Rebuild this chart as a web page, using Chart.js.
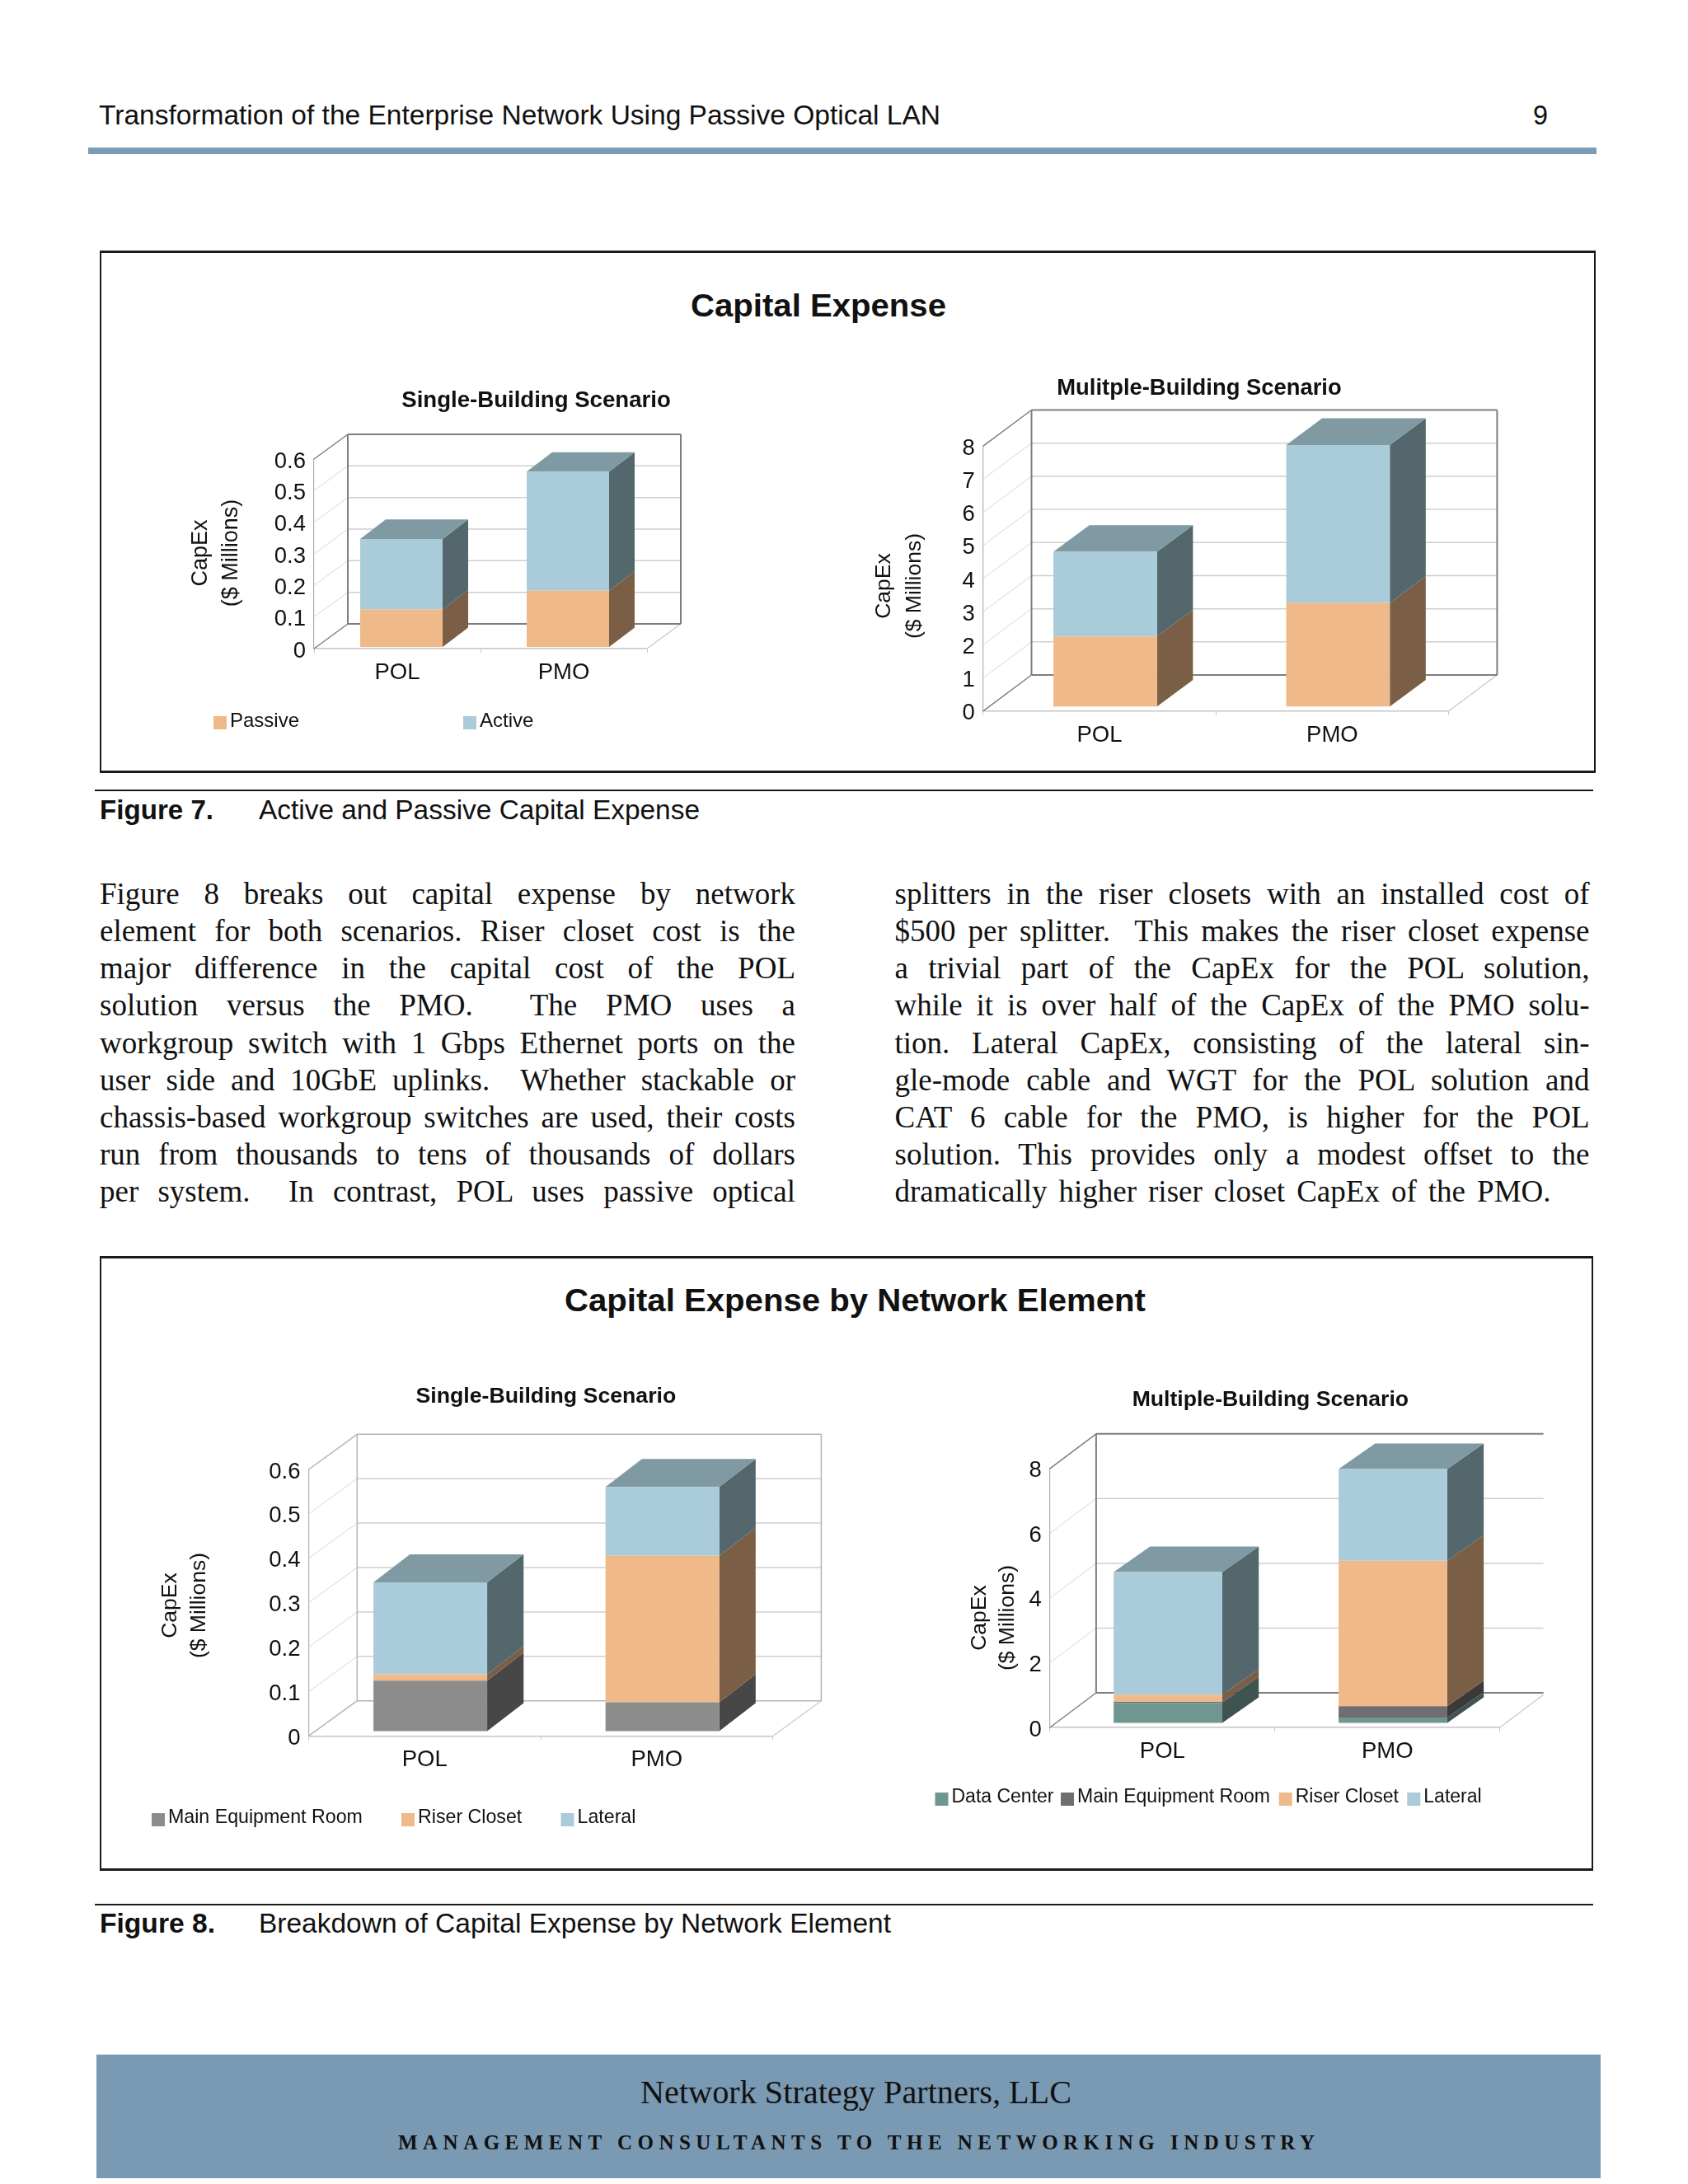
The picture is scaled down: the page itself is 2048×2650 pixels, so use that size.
<!DOCTYPE html>
<html>
<head>
<meta charset="utf-8">
<title>Capital Expense</title>
<script src="https://cdn.jsdelivr.net/npm/chart.js@4"></script>
<style>
html, body { margin: 0; padding: 0; background: #fff; }
#page { position: relative; width: 2048px; height: 2650px; overflow: hidden; background: #fff; }
.t { position: absolute; white-space: pre; line-height: 0; color: #111; transform-origin: 0 0; }
.r { position: absolute; }
canvas { position: absolute; }
</style>
</head>
<body>
<div id="page"></div>
<script>
var categories = ["POL", "PMO"]

// figure 7
var ticksFig7Single = [0, 0.1, 0.2, 0.3, 0.4, 0.5, 0.6]
var fig7SinglePassive = [0.119, 0.178]
var fig7SingleActive = [0.223, 0.377]

var ticksFig7Multi = [0, 1, 2, 3, 4, 5, 6, 7, 8]
var fig7MultiPassive = [2.115, 3.13]
var fig7MultiActive = [2.555, 4.765]

// figure 8
var ticksFig8Single = [0, 0.1, 0.2, 0.3, 0.4, 0.5, 0.6]
var fig8SingleMain = [0.114, 0.065]
var fig8SingleRiser = [0.014, 0.33]
var fig8SingleLateral = [0.207, 0.155]

var ticksFig8Multi = [0, 2, 4, 6, 8]
var fig8MultiData = [0.623, 0.169]
var fig8MultiMain = [0.03, 0.348]
var fig8MultiRiser = [0.222, 4.496]
var fig8MultiLateral = [3.789, 2.83]

var leftLines = [
    "Figure 8 breaks out capital expense by network",
    "element for both scenarios. Riser closet cost is the",
    "major difference in the capital cost of the POL",
    "solution versus the PMO.  The PMO uses a",
    "workgroup switch with 1 Gbps Ethernet ports on the",
    "user side and 10GbE uplinks.  Whether stackable or",
    "chassis-based workgroup switches are used, their costs",
    "run from thousands to tens of thousands of dollars",
    "per system.  In contrast, POL uses passive optical"
]
var rightLines = [
    "splitters in the riser closets with an installed cost of",
    "$500 per splitter.  This makes the riser closet expense",
    "a trivial part of the CapEx for the POL solution,",
    "while it is over half of the CapEx of the PMO solu-",
    "tion. Lateral CapEx, consisting of the lateral sin-",
    "gle-mode cable and WGT for the POL solution and",
    "CAT 6 cable for the PMO, is higher for the POL",
    "solution. This provides only a modest offset to the",
    "dramatically higher riser closet CapEx of the PMO."
]
var bodyBaselines = [1097, 1142.3, 1187.5, 1232.7, 1278, 1323, 1368.2, 1413.2, 1458.4]

var SANS = '"Liberation Sans", Arial, sans-serif'
var SERIF = '"Liberation Serif", "Times New Roman", serif'
var page = document.getElementById("page")

// colours of one stacked layer: front, side
var PEACH = ["#f0b98a", "#7a5f46"]
var BLUE = ["#aacbd9", "#54676d"]
var GREY = ["#8c8c8c", "#474747"]
var DARK = ["#6f6d70", "#3a3a3a"]
var TEAL = ["#6f9690", "#3f5350"]
var TOP_FACE = "#7f9aa3"

function rect(x, y, w, h, color){
    var d = document.createElement("div")
    d.className = "r"
    d.style.cssText = "left:" + x + "px;top:" + y + "px;width:" + w + "px;height:" + h + "px;background:" + color
    page.appendChild(d)
}

function box(x, y, w, h){
    var d = document.createElement("div")
    d.className = "r"
    d.style.cssText = "left:" + x + "px;top:" + y + "px;width:" + w + "px;height:" + h + "px;border:solid #1a1a1a;border-width:3px 2px 3px 2px;box-sizing:border-box"
    page.appendChild(d)
}

// text placed on its baseline, fitted to a measured width
// fit: scale = squeeze glyphs, words = word spacing, letters = letter spacing
function text(str, x, baseline, size, family, width, fit, bold){
    var d = document.createElement("div")
    var k = family == SANS ? 0.3465 : 0.3375
    d.className = "t"
    d.textContent = str
    d.style.left = x + "px"
    d.style.top = (baseline - k * size) + "px"
    d.style.fontFamily = family
    d.style.fontSize = size + "px"
    if (bold) d.style.fontWeight = "bold"
    page.appendChild(d)
    if (!width) return
    var natural = d.getBoundingClientRect().width
    if (fit == "words") {
        d.style.wordSpacing = ((width - natural) / (str.split(" ").length - 1)) + "px"
    } else if (fit == "letters") {
        d.style.letterSpacing = ((width - natural) / (str.length - 1)) + "px"
    } else {
        d.style.transform = "scaleX(" + (width / natural) + ")"
    }
}

function drawPageText(){
    rect(107, 179, 1830, 8, "#7a9db6")
    text("Transformation of the Enterprise Network Using Passive Optical LAN", 120, 151, 33, SANS, 1021)
    text("9", 1860, 151, 33, SANS, 18)

    box(121, 304, 1815, 634)
    text("Capital Expense", 838, 385, 39, SANS, 310, "scale", true)
    rect(115, 958, 1818, 2, "#1a1a1a")
    text("Figure 7.", 121, 994, 33, SANS, 138, "scale", true)
    text("Active and Passive Capital Expense", 313.5, 994, 33, SANS, 535)

    for (var i = 0; i < leftLines.length; i++) {
        text(leftLines[i], 121, bodyBaselines[i], 37, SERIF, 844, "words")
        text(rightLines[i], 1085.5, bodyBaselines[i], 37, SERIF, i == 8 ? 796 : 843, "words")
    }

    box(121, 1524, 1812, 746)
    text("Capital Expense by Network Element", 685, 1592, 39, SANS, 705, "scale", true)
    rect(115, 2310, 1818, 2, "#1a1a1a")
    text("Figure 8.", 121, 2345, 33, SANS, 140, "scale", true)
    text("Breakdown of Capital Expense by Network Element", 313.5, 2345, 33, SANS, 767)

    rect(117, 2493, 1825, 150, "#7a9ab3")
    text("Network Strategy Partners, LLC", 777, 2552, 39, SERIF, 523)
    text("MANAGEMENT CONSULTANTS TO THE NETWORKING INDUSTRY", 483, 2608, 25, SERIF, 1112, "letters", true)
}

// walls, floor and the depth faces of the bars
var depthPlugin = {
    id: "depth",
    beforeDatasetsDraw: function(chart){
        var c = chart.options.plugins.depth
        var ctx = chart.ctx
        var area = chart.chartArea
        var ys = chart.scales.y
        var y0 = ys.getPixelForValue(0)
        var yTop = ys.getPixelForValue(ys.max)
        var backL = area.left + c.dx
        var backR = area.right + c.dx

        function line(x1, y1, x2, y2, color, w){
            ctx.strokeStyle = color
            ctx.lineWidth = w
            ctx.beginPath()
            ctx.moveTo(x1, y1)
            ctx.lineTo(x2, y2)
            ctx.stroke()
        }

        ctx.save()
        if (c.cutX) {
            ctx.beginPath()
            ctx.rect(0, 0, c.cutX - chart.canvas.offsetLeft, chart.height)
            ctx.clip()
        }
        ys.ticks.forEach(function(t){
            if (t.value == 0 || t.value == ys.max) return
            var y = ys.getPixelForValue(t.value)
            line(area.left, y, backL, y - c.dy, "#d6d6d6", 1)
            line(backL, y - c.dy, backR, y - c.dy, "#cfcfcf", 1.5)
        })
        line(area.right, y0, backR, y0 - c.dy, "#c8c8c8", 1.2)
        line(area.left, y0, backL, y0 - c.dy, c.frame, 1.5)
        line(area.left, yTop, backL, yTop - c.dy, c.frame, 1.5)
        line(backL, yTop - c.dy, backL, y0 - c.dy, c.frame, c.frameW)
        line(backL, yTop - c.dy, backR, yTop - c.dy, c.frame, c.frameW)
        line(backL, y0 - c.dy, backR, y0 - c.dy, c.frame, c.frameW)
        if (!c.cutX) line(backR, yTop - c.dy, backR, y0 - c.dy, c.frame, c.frameW)
        ctx.restore()

        // stays open until afterDatasetsDraw so the bars stand off the axis plane
        ctx.save()
        ctx.translate(c.sx, -c.sy)
        var last = chart.data.datasets.length - 1
        chart.data.datasets.forEach(function(ds, i){
            chart.getDatasetMeta(i).data.forEach(function(bar){
                var p = bar.getProps(["x", "y", "base", "width"], true)
                var r = p.x + p.width / 2
                var l = p.x - p.width / 2
                ctx.fillStyle = ds.sideColor
                ctx.beginPath()
                ctx.moveTo(r, p.y)
                ctx.lineTo(r + c.barDx, p.y - c.barDy)
                ctx.lineTo(r + c.barDx, p.base - c.barDy)
                ctx.lineTo(r, p.base)
                ctx.closePath()
                ctx.fill()
                if (i == last) {
                    ctx.fillStyle = TOP_FACE
                    ctx.beginPath()
                    ctx.moveTo(l, p.y)
                    ctx.lineTo(l + c.barDx, p.y - c.barDy)
                    ctx.lineTo(r + c.barDx, p.y - c.barDy)
                    ctx.lineTo(r, p.y)
                    ctx.closePath()
                    ctx.fill()
                }
            })
        })
    },
    afterDatasetsDraw: function(chart){
        chart.ctx.restore()
    }
}

// chart title, two line axis title and legend sit at measured places
var labelsPlugin = {
    id: "labels",
    afterDraw: function(chart){
        var c = chart.options.plugins.labels
        var ctx = chart.ctx
        var ox = chart.canvas.offsetLeft
        var oy = chart.canvas.offsetTop
        ctx.save()
        ctx.fillStyle = "#111"
        ctx.textBaseline = "middle"

        ctx.textAlign = "center"
        ctx.font = "bold " + c.titleSize + "px " + SANS
        ctx.fillText(c.title, c.titleX - ox, c.titleY - oy)

        ctx.font = c.axisSize + "px " + SANS
        c.axisText.forEach(function(s, i){
            ctx.save()
            ctx.translate(c.axisX[i] - ox, c.axisY - oy)
            ctx.rotate(-Math.PI / 2)
            ctx.fillText(s, 0, 0)
            ctx.restore()
        })

        ctx.textAlign = "left"
        ctx.font = c.legendSize + "px " + SANS
        chart.data.datasets.forEach(function(ds, i){
            if (!c.legendX) return
            ctx.fillStyle = ds.backgroundColor
            ctx.fillRect(c.legendX[i] - ox, c.legendY - oy, 16, 16)
            ctx.fillStyle = "#111"
            ctx.fillText(ds.label, c.legendX[i] + 20 - ox, c.legendTextY - oy)
        })
        ctx.restore()
    }
}

function layer(label, values, colors, barPct){
    return {
        label: label,
        data: values,
        backgroundColor: colors[0],
        sideColor: colors[1],
        borderWidth: 0,
        barPercentage: barPct,
        categoryPercentage: 1,
        clip: false
    }
}

// frame = canvas on the page, plot = front plane of the axes on the page
function makeChart(frame, plot, datasets, yMax, ticks, depth, labels){
    var cv = document.createElement("canvas")
    cv.style.left = frame.x + "px"
    cv.style.top = frame.y + "px"
    cv.width = frame.w
    cv.height = frame.h
    page.appendChild(cv)

    var xHeight = 60
    return new Chart(cv.getContext("2d"), {
        type: "bar",
        data: { labels: categories, datasets: datasets },
        plugins: [depthPlugin, labelsPlugin],
        options: {
            responsive: false,
            animation: false,
            devicePixelRatio: 1,
            layout: {
                padding: {
                    left: 0,
                    top: plot.top - frame.y,
                    right: frame.x + frame.w - plot.right,
                    bottom: frame.y + frame.h - plot.bottom - xHeight
                }
            },
            plugins: {
                legend: { display: false },
                title: { display: false },
                tooltip: { enabled: false },
                depth: depth,
                labels: labels
            },
            scales: {
                x: {
                    stacked: true,
                    afterFit: function(s){ s.height = xHeight },
                    grid: { offset: true, drawOnChartArea: false, drawTicks: true, tickLength: 5, color: "#c8c8c8" },
                    border: { color: "#c4c4c4", width: 1.5 },
                    ticks: { color: "#111", padding: 8, maxRotation: 0, font: { family: SANS, size: 27.5 } }
                },
                y: {
                    stacked: true,
                    min: 0,
                    max: yMax,
                    afterFit: function(s){ s.width = plot.left - frame.x },
                    afterBuildTicks: function(s){ s.ticks = ticks.map(function(v){ return { value: v } }) },
                    grid: { display: false, drawTicks: false },
                    border: { display: true, color: "#b0b0b0", width: 1.2 },
                    ticks: { color: "#111", padding: 10, labelOffset: 3, font: { family: SANS, size: 27.5 } }
                }
            }
        }
    })
}

drawPageText()

makeChart({ x: 125, y: 310, w: 900, h: 620 }, { left: 381, right: 785, top: 557, bottom: 787 },
    [layer("Passive", fig7SinglePassive, PEACH, 0.495), layer("Active", fig7SingleActive, BLUE, 0.495)],
    0.6, ticksFig7Single,
    { dx: 41, dy: 30, barDx: 31, barDy: 23.6, sx: 5, sy: 2, frame: "#7e7e7e", frameW: 2 },
    { title: "Single-Building Scenario", titleSize: 27.6, titleX: 650.5, titleY: 486,
      axisText: ["CapEx", "($ Millions)"], axisSize: 27, axisX: [244, 281], axisY: 671,
      legendSize: 24, legendX: [259, 562], legendY: 869, legendTextY: 875 })

makeChart({ x: 1030, y: 310, w: 900, h: 620 }, { left: 1192.7, right: 1757.6, top: 541.3, bottom: 862.8 },
    [layer("Passive", fig7MultiPassive, PEACH, 0.445), layer("Active", fig7MultiActive, BLUE, 0.445)],
    8, ticksFig7Multi,
    { dx: 58.8, dy: 43.8, barDx: 43.6, barDy: 32.4, sx: 7, sy: 5.5, frame: "#7e7e7e", frameW: 2 },
    { title: "Mulitple-Building Scenario", titleSize: 27.4, titleX: 1455, titleY: 471,
      axisText: ["CapEx", "($ Millions)"], axisSize: 26.5, axisX: [1073, 1109.5], axisY: 711 })

makeChart({ x: 125, y: 1530, w: 920, h: 735 }, { left: 374.5, right: 937.6, top: 1783, bottom: 2106.4 },
    [layer("Main Equipment Room", fig8SingleMain, GREY, 0.49),
     layer("Riser Closet", fig8SingleRiser, PEACH, 0.49),
     layer("Lateral", fig8SingleLateral, BLUE, 0.49)],
    0.6, ticksFig8Single,
    { dx: 58.8, dy: 42.7, barDx: 44.2, barDy: 34, sx: 6.8, sy: 5.8, frame: "#b4b4b4", frameW: 1.5 },
    { title: "Single-Building Scenario", titleSize: 26.7, titleX: 662.4, titleY: 1695,
      axisText: ["CapEx", "($ Millions)"], axisSize: 26.5, axisX: [207, 242], axisY: 1948,
      legendSize: 23.2, legendX: [184, 487, 680.5], legendY: 2200, legendTextY: 2206 })

makeChart({ x: 1050, y: 1530, w: 878, h: 735 }, { left: 1273.9, right: 1819.8, top: 1781.8, bottom: 2096 },
    [layer("Data Center", fig8MultiData, TEAL, 0.483),
     layer("Main Equipment Room", fig8MultiMain, DARK, 0.483),
     layer("Riser Closet", fig8MultiRiser, PEACH, 0.483),
     layer("Lateral", fig8MultiLateral, BLUE, 0.483)],
    8, ticksFig8Multi,
    { dx: 56, dy: 42, barDx: 44.2, barDy: 31, sx: 6.7, sy: 5.4, frame: "#7e7e7e", frameW: 2, cutX: 1872.6 },
    { title: "Multiple-Building Scenario", titleSize: 26.6, titleX: 1541.4, titleY: 1699,
      axisText: ["CapEx", "($ Millions)"], axisSize: 26.5, axisX: [1189, 1223], axisY: 1963,
      legendSize: 23, legendX: [1134.5, 1287, 1551.7, 1707.3], legendY: 2175, legendTextY: 2181 })
</script>
</body>
</html>
